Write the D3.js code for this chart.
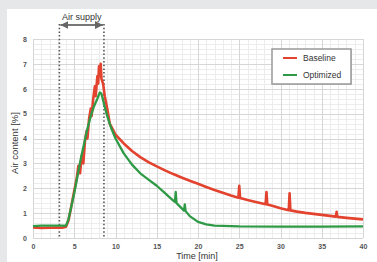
<!DOCTYPE html>
<html>
<head>
<meta charset="utf-8">
<script src="https://cdn.jsdelivr.net/npm/d3@7"></script>
<style>
  html, body { margin: 0; padding: 0; background: #e6e7e8; }
  svg { display: block; }
  text { font-family: "Liberation Sans Narrow", "Liberation Sans", Arial, sans-serif; }
</style>
</head>
<body>
<div id="chart"></div>
<script>
// time [min] / air content [%]
const baselineTime = [0, 1, 2, 3, 3.5, 4, 4.3, 4.6, 5, 5.3, 5.5, 5.7, 5.9, 6.1, 6.3, 6.5, 6.6, 6.8, 7.0, 7.1, 7.3, 7.5, 7.6, 7.8, 7.9, 8.0, 8.1, 8.2, 8.3, 8.5, 8.7, 9.0, 9.3, 9.7, 10, 11, 12, 13, 14, 15, 16, 17, 18, 19, 20, 21, 22, 23, 24, 24.9, 25, 25.1, 26, 27, 28.2, 28.3, 28.4, 29, 30, 31, 31.1, 31.2, 32, 33, 34, 35, 36, 36.7, 36.8, 36.9, 38, 39, 40];
const baselineValue = [0.42, 0.4, 0.41, 0.42, 0.41, 0.45, 0.7, 1.2, 1.9, 2.4, 2.9, 2.6, 3.3, 3.0, 3.9, 4.3, 4.0, 4.8, 5.2, 4.9, 5.6, 6.1, 5.7, 6.5, 6.2, 6.9, 6.5, 7.0, 6.4, 6.2, 5.7, 5.2, 4.6, 4.35, 4.15, 3.8, 3.5, 3.25, 3.05, 2.88, 2.72, 2.57, 2.43, 2.3, 2.18, 2.05, 1.93, 1.82, 1.71, 1.62, 2.1, 1.61, 1.53, 1.45, 1.36, 1.85, 1.35, 1.3, 1.2, 1.12, 1.8, 1.11, 1.06, 1.01, 0.97, 0.93, 0.89, 0.86, 1.05, 0.85, 0.81, 0.78, 0.75];

const optimizedTime = [0, 1, 2, 3, 4, 4.3, 4.6, 5, 5.4, 5.8, 6.2, 6.6, 7.0, 7.4, 7.8, 8.1, 8.3, 8.6, 9.0, 9.5, 10, 11, 12, 13, 14, 15, 16, 17, 17.2, 17.3, 17.4, 18, 18.3, 18.4, 18.5, 19, 20, 21, 22, 25, 30, 35, 40];
const optimizedValue = [0.48, 0.5, 0.5, 0.5, 0.5, 0.75, 1.2, 1.8, 2.5, 3.2, 3.8, 4.4, 4.9, 5.3, 5.6, 5.85, 5.8, 5.4, 4.9, 4.4, 4.0, 3.4, 2.95, 2.6, 2.35, 2.1, 1.8, 1.5, 1.45, 1.85, 1.4, 1.2, 1.1, 1.35, 1.08, 0.88, 0.65, 0.55, 0.5, 0.47, 0.46, 0.46, 0.47];

const xTicks = [0, 5, 10, 15, 20, 25, 30, 35, 40];
const yTicks = [0, 1, 2, 3, 4, 5, 6, 7, 8];
const airSupply = [3.2, 8.6];
const seriesNames = ['Baseline', 'Optimized'];
const seriesColors = ['#e2422e', '#2f9a45'];

const width = 377, height = 262;
const svg = d3.select('#chart').append('svg').attr('width', width).attr('height', height);

// white panel
svg.append('rect').attr('x', 7).attr('y', 9).attr('width', width - 7).attr('height', height - 9).attr('fill', '#fff');

const x = d3.scaleLinear().domain([0, 40]).range([33, 363]);
const y = d3.scaleLinear().domain([0, 8]).range([238, 39]);

// grid
const grid = svg.append('g');
grid.selectAll('.hmin').data(d3.range(0, 8.01, 0.2))
  .enter().append('line')
  .attr('x1', x(0)).attr('x2', x(40))
  .attr('y1', d => Math.round(y(d)) + 0.5).attr('y2', d => Math.round(y(d)) + 0.5)
  .attr('stroke', '#ececec').attr('stroke-width', 1);
grid.selectAll('.vmin').data(d3.range(0, 40.01, 1))
  .enter().append('line')
  .attr('y1', y(0)).attr('y2', y(8))
  .attr('x1', d => Math.round(x(d)) + 0.5).attr('x2', d => Math.round(x(d)) + 0.5)
  .attr('stroke', d => d % 5 === 0 ? '#d6d6d6' : '#ececec').attr('stroke-width', 1);
grid.selectAll('.hmaj').data(yTicks)
  .enter().append('line')
  .attr('x1', x(0)).attr('x2', x(40))
  .attr('y1', d => Math.round(y(d)) + 0.5).attr('y2', d => Math.round(y(d)) + 0.5)
  .attr('stroke', '#d6d6d6').attr('stroke-width', 1);

// axes (labels only)
const xAxis = svg.append('g').attr('transform', `translate(0,${y(0) + 6})`)
  .call(d3.axisBottom(x).tickValues(xTicks).tickSize(0).tickPadding(0));
const yAxis = svg.append('g').attr('transform', `translate(${x(0) - 6},0)`)
  .call(d3.axisLeft(y).tickValues(yTicks).tickSize(0).tickPadding(0));
[xAxis, yAxis].forEach(a => {
  a.select('.domain').remove();
  a.selectAll('text').attr('fill', '#555').attr('font-size', 7).attr('font-weight', 'bold')
    .style('font-family', '"Liberation Sans", Arial, sans-serif');
});

// air supply markers
svg.selectAll('.supply').data(airSupply)
  .enter().append('line')
  .attr('x1', d => x(d)).attr('x2', d => x(d))
  .attr('y1', 24).attr('y2', y(0))
  .attr('stroke', '#555').attr('stroke-width', 1.6).attr('stroke-dasharray', '1.5,2.2');

const defs = svg.append('defs');
defs.append('marker').attr('id', 'ah').attr('viewBox', '0 0 10 10').attr('refX', 10).attr('refY', 5)
  .attr('markerWidth', 4).attr('markerHeight', 4).attr('orient', 'auto-start-reverse')
  .append('path').attr('d', 'M0,0L10,5L0,10z').attr('fill', '#666');
svg.append('line')
  .attr('x1', x(airSupply[0]) + 1).attr('x2', x(airSupply[1]) - 1)
  .attr('y1', 25).attr('y2', 25)
  .attr('stroke', '#777').attr('stroke-width', 2)
  .attr('marker-start', 'url(#ah)').attr('marker-end', 'url(#ah)');
svg.append('text').attr('x', (x(airSupply[0]) + x(airSupply[1])) / 2).attr('y', 20)
  .attr('text-anchor', 'middle').attr('font-size', 9).attr('fill', '#333').text('Air supply');

// series
const line = d3.line().x(d => x(d[0])).y(d => y(d[1]));
const series = [
  d3.zip(baselineTime, baselineValue),
  d3.zip(optimizedTime, optimizedValue)
];
svg.selectAll('.series').data(series)
  .enter().append('path')
  .attr('d', line)
  .attr('fill', 'none')
  .attr('stroke', (d, i) => seriesColors[i])
  .attr('stroke-width', (d, i) => i === 0 ? 2.6 : 2.3)
  .attr('stroke-linejoin', 'round');

// legend
const lg = svg.append('g').attr('transform', 'translate(272,49)');
lg.append('rect').attr('x', 1).attr('y', 1).attr('width', 79).attr('height', 35).attr('fill', '#cfcfcf');
lg.append('rect').attr('width', 79).attr('height', 35).attr('fill', '#fff').attr('stroke', '#999').attr('stroke-width', 1.5);
seriesNames.forEach((name, i) => {
  lg.append('line').attr('x1', 11).attr('x2', 25).attr('y1', 9 + i * 17).attr('y2', 9 + i * 17)
    .attr('stroke', seriesColors[i]).attr('stroke-width', 2);
  lg.append('text').attr('x', 31).attr('y', 12 + i * 17).attr('font-size', 8.5).attr('fill', '#333').text(name);
});

// axis titles
svg.append('text').attr('x', 197).attr('y', 259).attr('text-anchor', 'middle')
  .attr('font-size', 9).attr('fill', '#333').text('Time [min]');
svg.append('text').attr('transform', 'translate(18,143) rotate(-90)').attr('text-anchor', 'middle')
  .attr('font-size', 9.5).attr('fill', '#333').text('Air content [%]');
</script>
</body>
</html>
